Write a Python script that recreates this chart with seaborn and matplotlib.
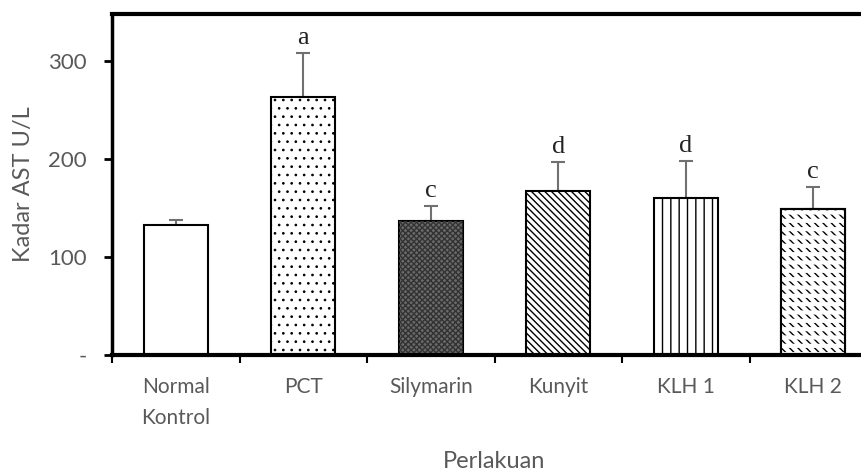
import matplotlib
matplotlib.use("Agg")
import matplotlib.pyplot as plt
import seaborn as sns
import pandas as pd
import numpy as np

categories = ["Normal\nKontrol", "PCT", "Silymarin", "Kunyit", "KLH 1", "KLH 2"]
means = [133, 263, 137, 167, 160, 149]
errors = [5, 45, 15, 30, 38, 22]
letters = ["", "a", "c", "d", "d", "c"]
hatches = ["", "..", "", "\\\\\\\\\\", "||", "\\\\\\\\"]
facecolors = ["white", "white", "#6a6a6a", "white", "white", "white"]

sns.set_theme(style="white")
plt.rcParams['font.family'] = ['Lato', 'DejaVu Sans']

df = pd.DataFrame({"cat": categories, "val": means})

fig = plt.figure(figsize=(8.61, 4.70), dpi=100)
ax = fig.add_axes([112/861, 1-355/470, 765/861, (355-14)/470])

sns.barplot(data=df, x="cat", y="val", ax=ax, width=0.5, color="white",
            edgecolor="black", linewidth=1.5, errorbar=None)

for i, p in enumerate(ax.patches):
    p.set_facecolor(facecolors[i])
    p.set_edgecolor("black")
    if hatches[i]:
        p.set_hatch(hatches[i])
    p.set_zorder(2)

try:
    ax.patches[1].set_hatch_linewidth(0.7)
except Exception:
    pass

# KLH 2: short diagonal dashes in rows -> overlay white horizontal stripes
p5 = ax.patches[5]
x0, w, h = p5.get_x(), p5.get_width(), p5.get_height()
stripe = ax.bar([x0 + w/2], [h], width=w, facecolor="none", edgecolor="white",
                linewidth=0, hatch="--", zorder=2.5)
for b in stripe:
    try:
        b.set_hatch_linewidth(3.0)
    except Exception:
        pass
ax.bar([x0 + w/2], [h], width=w, facecolor="none", edgecolor="black",
       linewidth=1.5, zorder=2.6)

# Silymarin fine checker texture
p2 = ax.patches[2]
ax.bar([p2.get_x() + p2.get_width()/2], [p2.get_height()], width=p2.get_width(),
       facecolor="none", edgecolor="#333333", linewidth=0, hatch="xxxxxx", zorder=2.4)

xs = np.arange(len(categories))
ax.errorbar(xs, means, yerr=[np.zeros(len(errors)), errors], fmt="none",
            ecolor="#707070", elinewidth=1.5, capsize=5, capthick=1.5, zorder=1)

for i, (m, e, l) in enumerate(zip(means, errors, letters)):
    if l:
        ax.annotate(l, (xs[i], m + e), xytext=(0, 3), textcoords="offset points",
                    ha="center", va="bottom", fontsize=19,
                    family="Liberation Serif", color="#222222")

ax.set_xlim(-0.5, 5.5)
ax.set_ylim(0, 348)
ax.set_yticks([0, 100, 200, 300])
ax.set_yticklabels(["-", "100", "200", "300"])
ax.set_xticks(xs)
ax.set_xticklabels(categories, linespacing=1.7)
ax.set_xticks(np.arange(-0.5, 5.6, 1.0), minor=True)

ax.tick_params(axis="x", which="major", length=0, pad=16, labelsize=15, labelcolor="#595959")
ax.tick_params(axis="x", which="minor", length=6, width=1.5, color="black", direction="out", bottom=True)
ax.tick_params(axis="y", which="major", length=6, width=2, color="black", direction="out",
               left=True, labelsize=16, labelcolor="#595959", pad=12)

for side in ["left", "bottom", "top"]:
    ax.spines[side].set_visible(True)
    ax.spines[side].set_color("black")
ax.spines["left"].set_linewidth(2.5)
ax.spines["bottom"].set_linewidth(3)
ax.spines["top"].set_linewidth(3)
ax.spines["right"].set_visible(False)

ax.set_xlabel("Perlakuan", fontsize=17, color="#595959", labelpad=16)
ax.set_ylabel("Kadar AST U/L", fontsize=17, color="#595959", labelpad=10)
ax.grid(False)

fig.savefig("out.png", dpi=100)
